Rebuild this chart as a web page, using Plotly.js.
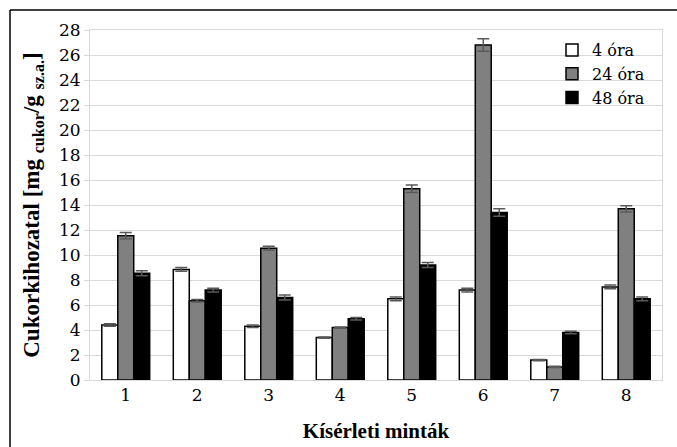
<!DOCTYPE html>
<html>
<head>
<meta charset="utf-8">
<script src="https://cdn.plot.ly/plotly-3.0.1.min.js"></script>
<style>html,body{margin:0;padding:0;background:#fff;}#chart{width:677px;height:447px;}</style>
</head>
<body>
<div id="chart"></div>
<script>
var categories = ['1', '2', '3', '4', '5', '6', '7', '8'];
var seriesNames = ['4 óra', '24 óra', '48 óra'];
var h4 = [4.4, 8.85, 4.3, 3.4, 6.5, 7.2, 1.6, 7.45];
var h24 = [11.55, 6.35, 10.55, 4.2, 15.3, 26.8, 1.05, 13.7];
var h48 = [8.55, 7.2, 6.6, 4.9, 9.2, 13.4, 3.8, 6.5];
var err4 = [0.1, 0.15, 0.1, 0.05, 0.15, 0.15, 0.05, 0.15];
var err24 = [0.25, 0.1, 0.15, 0.05, 0.3, 0.5, 0.05, 0.25];
var err48 = [0.2, 0.15, 0.2, 0.1, 0.2, 0.3, 0.1, 0.15];
var yTicks = [0, 2, 4, 6, 8, 10, 12, 14, 16, 18, 20, 22, 24, 26, 28];

var fills = ['#ffffff', '#808080', '#000000'];
var values = [h4, h24, h48];
var errs = [err4, err24, err48];
var boldFont = 'Liberation Serif';
var regFont = 'DejaVu Serif';

var traces = values.map(function (v, i) {
  return {
    type: 'bar',
    name: seriesNames[i],
    x: categories,
    y: v,
    marker: {color: fills[i], line: {color: '#000000', width: 1.5}},
    error_y: {type: 'data', array: errs[i], visible: true, color: '#595959', thickness: 1.5, width: 6}
  };
});

var L = 90, R = 15, T = 30, B = 67, W = 677, H = 447;
var pw = W - L - R, ph = H - T - B;
function px(x) { return (x - L) / pw; }
function py(y) { return (H - B - y) / ph; }

var layout = {
  width: W, height: H,
  margin: {l: L, r: R, t: T, b: B},
  paper_bgcolor: '#ffffff',
  plot_bgcolor: '#ffffff',
  font: {family: regFont, size: 17, color: '#000000'},
  barmode: 'group',
  bargap: 0.33,
  bargroupgap: 0,
  showlegend: true,
  legend: {x: px(552), y: py(33), xanchor: 'left', yanchor: 'top', bgcolor: 'rgba(0,0,0,0)',
           font: {family: regFont, size: 16, color: '#000000'}, tracegroupgap: 0},
  xaxis: {
    type: 'category',
    showline: true, linecolor: '#d9d9d9', linewidth: 1, mirror: true,
    ticks: '', tickfont: {family: regFont, size: 17, color: '#000000'},
    title: {text: '<b>Kísérleti minták</b>', font: {family: boldFont, size: 21, color: '#000000'}, standoff: 18}
  },
  yaxis: {
    range: [0, 28],
    tickvals: yTicks,
    ticktext: yTicks.map(String),
    showgrid: true, gridcolor: '#d9d9d9', gridwidth: 1,
    showline: true, linecolor: '#d9d9d9', linewidth: 1, mirror: true,
    ticks: 'outside', ticklen: 5, tickcolor: '#d9d9d9',
    tickfont: {family: regFont, size: 17, color: '#000000'},
    zeroline: false,
    title: {text: '<b>Cukorkihozatal [mg <sub>cukor</sub>/g <sub>sz.a.</sub>]</b>', font: {family: boldFont, size: 23, color: '#000000'}, standoff: 12}
  },
  shapes: [
    {type: 'line', xref: 'paper', yref: 'paper', x0: px(10), x1: px(10), y0: py(10), y1: py(H + 5), line: {color: '#000000', width: 1.5}},
    {type: 'line', xref: 'paper', yref: 'paper', x0: px(10), x1: px(W + 5), y0: py(10), y1: py(10), line: {color: '#000000', width: 1.5}}
  ]
};

Plotly.newPlot('chart', traces, layout, {displayModeBar: false, staticPlot: true});
</script>
</body>
</html>
